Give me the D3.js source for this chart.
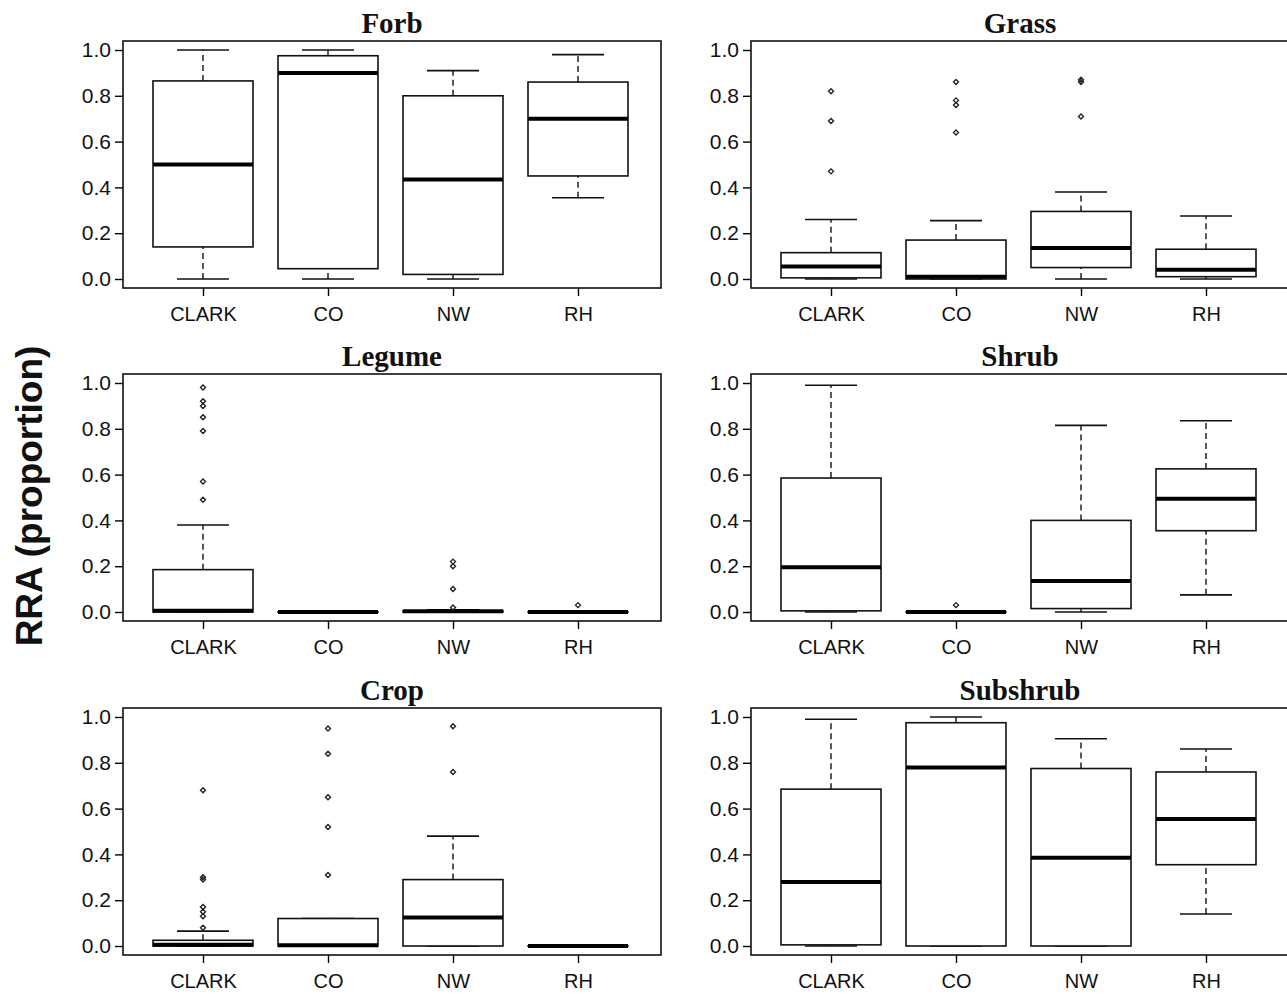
<!DOCTYPE html>
<html>
<head>
<style>
body { margin: 0; background: #fff; }
text { fill: #111; }
</style>
<script src="https://cdn.jsdelivr.net/npm/d3@7"></script>
</head>
<body>
<svg width="1287" height="998"></svg>
<script>
var sites = ["CLARK", "CO", "NW", "RH"];
var panels = ["Forb", "Grass", "Legume", "Shrub", "Crop", "Subshrub"];
var yTicks = [0, 0.2, 0.4, 0.6, 0.8, 1.0];

// [low whisker, q1, median, q3, high whisker] per site
var forbStats = [[0,0.14,0.5,0.865,1.0],[0,0.045,0.9,0.975,1.0],[0,0.02,0.435,0.80,0.91],[0.355,0.45,0.70,0.86,0.98]];
var grassStats = [[0,0.005,0.055,0.115,0.26],[0,0,0.01,0.17,0.255],[0,0.05,0.135,0.295,0.38],[0,0.01,0.04,0.13,0.275]];
var legumeStats = [[0,0,0.005,0.185,0.38],[0,0,0,0,0],[0,0,0.003,0.005,0.01],[0,0,0,0,0]];
var shrubStats = [[0,0.005,0.195,0.585,0.99],[0,0,0,0,0],[0,0.015,0.135,0.40,0.815],[0.075,0.355,0.495,0.625,0.835]];
var cropStats = [[0,0,0.005,0.025,0.065],[0,0,0.003,0.12,0.12],[0,0,0.125,0.29,0.48],[0,0,0,0,0]];
var subshrubStats = [[0,0.005,0.28,0.685,0.99],[0,0,0.78,0.975,1.0],[0,0,0.385,0.775,0.905],[0.14,0.355,0.555,0.76,0.86]];

var forbOut = [[],[],[],[]];
var grassOut = [[0.47,0.69,0.82],[0.64,0.76,0.78,0.86],[0.71,0.86,0.87],[]];
var legumeOut = [[0.49,0.57,0.79,0.85,0.90,0.92,0.98],[],[0.02,0.10,0.20,0.22],[0.03]];
var shrubOut = [[],[0.03],[],[]];
var cropOut = [[0.08,0.13,0.15,0.17,0.29,0.30,0.68],[0.31,0.52,0.65,0.84,0.95],[0.76,0.96],[]];
var subshrubOut = [[],[],[],[]];

var allStats = [forbStats, grassStats, legumeStats, shrubStats, cropStats, subshrubStats];
var allOut = [forbOut, grassOut, legumeOut, shrubOut, cropOut, subshrubOut];

var svg = d3.select("svg");
var colX = [123, 751], rowTop = [41, 374, 708];
var pw = 538, ph = 247;

svg.append("text")
  .attr("transform", "translate(42,496) rotate(-90)")
  .attr("text-anchor", "middle")
  .style("font", "bold 37px Arial, 'Liberation Sans', sans-serif")
  .text("RRA (proportion)");

panels.forEach(function(name, i) {
  var left = colX[i % 2], top = rowTop[Math.floor(i / 2)];
  var g = svg.append("g").attr("transform", "translate(" + left + "," + top + ")");
  var x = d3.scalePoint().domain(sites).range([80, 455]);
  var y = d3.scaleLinear().domain([0, 1]).range([238, 9]);

  g.append("rect").attr("width", pw).attr("height", ph)
    .attr("fill", "none").attr("stroke", "#111").attr("stroke-width", 1.6);

  var ya = g.append("g").call(d3.axisLeft(y).tickValues(yTicks).tickFormat(d3.format(".1f")).tickSize(8).tickPadding(4));
  ya.select(".domain").remove();
  ya.selectAll("line").attr("stroke-width", 1.4);
  ya.selectAll("text").style("font", "21px Arial, 'Liberation Sans', sans-serif");

  var xa = g.append("g").attr("transform", "translate(0," + ph + ")")
    .call(d3.axisBottom(x).tickSize(8).tickPadding(11));
  xa.select(".domain").remove();
  xa.selectAll("line").attr("stroke-width", 1.4);
  xa.selectAll("text").style("font", "20px Arial, 'Liberation Sans', sans-serif");

  g.append("text").attr("x", pw / 2).attr("y", -8).attr("text-anchor", "middle")
    .style("font", "bold 29px 'Liberation Serif', 'Times New Roman', serif").text(name);

  var bw = 100, cw = 52;
  allStats[i].forEach(function(s, j) {
    var cx = x(sites[j]);
    var b = g.append("g");
    b.append("line").attr("x1", cx).attr("x2", cx).attr("y1", y(s[0])).attr("y2", y(s[1]))
      .attr("stroke", "#111").attr("stroke-width", 1.4).attr("stroke-dasharray", "6,4");
    b.append("line").attr("x1", cx).attr("x2", cx).attr("y1", y(s[3])).attr("y2", y(s[4]))
      .attr("stroke", "#111").attr("stroke-width", 1.4).attr("stroke-dasharray", "6,4");
    [s[0], s[4]].forEach(function(v) {
      b.append("line").attr("x1", cx - cw / 2).attr("x2", cx + cw / 2).attr("y1", y(v)).attr("y2", y(v))
        .attr("stroke", "#111").attr("stroke-width", 1.6);
    });
    b.append("rect").attr("x", cx - bw / 2).attr("width", bw)
      .attr("y", y(s[3])).attr("height", Math.max(0.01, y(s[1]) - y(s[3])))
      .attr("fill", "#fff").attr("stroke", "#111").attr("stroke-width", 1.6);
    b.append("line").attr("x1", cx - bw / 2).attr("x2", cx + bw / 2).attr("y1", y(s[2])).attr("y2", y(s[2]))
      .attr("stroke", "#000").attr("stroke-width", 4);
    allOut[i][j].forEach(function(v) {
      b.append("path").attr("transform", "translate(" + cx + "," + y(v) + ")")
        .attr("d", "M0,-2.5L2.5,0L0,2.5L-2.5,0Z")
        .attr("fill", "none").attr("stroke", "#222").attr("stroke-width", 1.4);
    });
  });
});
</script>
</body>
</html>
